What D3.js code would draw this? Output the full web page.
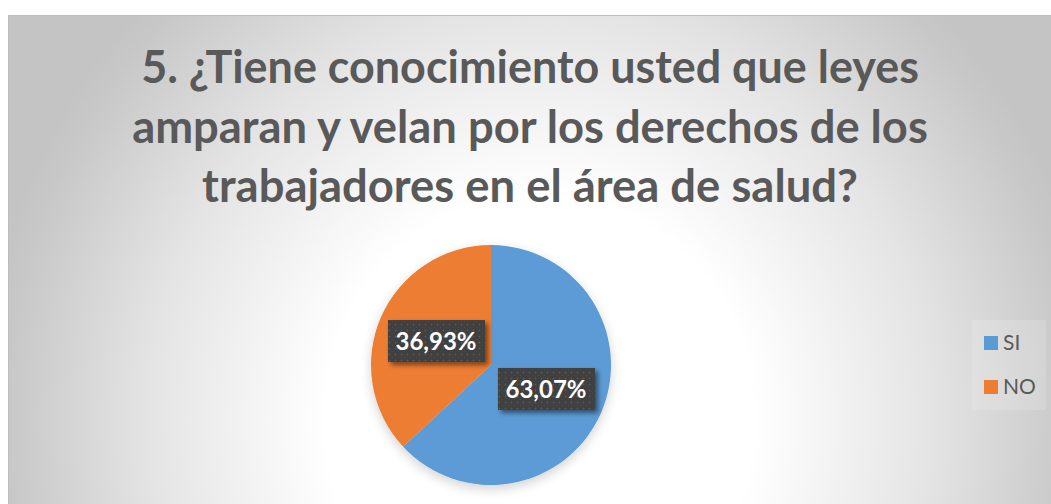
<!DOCTYPE html>
<html><head><meta charset="utf-8">
<script src="https://cdn.jsdelivr.net/npm/d3@7"></script>
<style>html,body{margin:0;padding:0;background:#fff;}svg{display:block;}</style>
</head><body>
<script>
const titleLines = ["5. ¿Tiene conocimiento usted que leyes",
  "amparan y velan por los derechos de los",
  "trabajadores en el área de salud?"];
const categories = ["SI", "NO"];
const values = [63.07, 36.93];
const labels = ["63,07%", "36,93%"];
const colors = ["#5B9BD5", "#ED7D31"];

const W = 1051, H = 504;
const svg = d3.select("body").append("svg").attr("width", W).attr("height", H);
const defs = svg.append("defs");

const grad = defs.append("radialGradient").attr("id", "bg")
  .attr("gradientUnits", "userSpaceOnUse")
  .attr("cx", 540).attr("cy", 420).attr("r", 560)
  .attr("gradientTransform", "translate(540,420) scale(1,1.05) translate(-540,-420)");
grad.append("stop").attr("offset", 0).attr("stop-color", "#ffffff");
grad.append("stop").attr("offset", 0.38).attr("stop-color", "#ffffff");
grad.append("stop").attr("offset", 0.7).attr("stop-color", "#e4e4e4");
grad.append("stop").attr("offset", 0.95).attr("stop-color", "#c8c8c8");
grad.append("stop").attr("offset", 1).attr("stop-color", "#c4c4c4");

const glow = defs.append("filter").attr("id", "glow").attr("x", "-30%").attr("y", "-30%").attr("width", "160%").attr("height", "160%");
glow.append("feGaussianBlur").attr("in", "SourceAlpha").attr("stdDeviation", 6).attr("result", "b");
glow.append("feOffset").attr("in", "b").attr("dx", 0).attr("dy", 4).attr("result", "o");
glow.append("feComponentTransfer").attr("in", "o").attr("result", "s")
  .append("feFuncA").attr("type", "linear").attr("slope", 0.18);
const gm = glow.append("feMerge");
gm.append("feMergeNode").attr("in", "s");
gm.append("feMergeNode").attr("in", "SourceGraphic");

const sh = defs.append("filter").attr("id", "lblsh").attr("x", "-20%").attr("y", "-20%").attr("width", "150%").attr("height", "160%");
sh.append("feGaussianBlur").attr("in", "SourceAlpha").attr("stdDeviation", 2.5).attr("result", "b");
sh.append("feOffset").attr("in", "b").attr("dx", 3).attr("dy", 3).attr("result", "o");
sh.append("feComponentTransfer").attr("in", "o").attr("result", "s")
  .append("feFuncA").attr("type", "linear").attr("slope", 0.5);
const sm = sh.append("feMerge");
sm.append("feMergeNode").attr("in", "s");
sm.append("feMergeNode").attr("in", "SourceGraphic");

const pat = defs.append("pattern").attr("id", "dots").attr("patternUnits", "userSpaceOnUse")
  .attr("width", 6).attr("height", 6);
pat.append("rect").attr("width", 6).attr("height", 6).attr("fill", "#3f3f3f");
pat.append("circle").attr("cx", 1.5).attr("cy", 1.5).attr("r", 0.9).attr("fill", "#5a5a5a");
pat.append("circle").attr("cx", 4.5).attr("cy", 4.5).attr("r", 0.6).attr("fill", "#4c4c4c");

// chart area
svg.append("rect").attr("x", 8.5).attr("y", 15.5).attr("width", W).attr("height", H)
  .attr("fill", "url(#bg)").attr("stroke", "#bdbdbd").attr("stroke-width", 1);

// title
const title = svg.append("g").attr("fill", "#595959")
  .attr("font-family", "Lato, 'Open Sans', sans-serif").attr("font-weight", 700);
const titleWidths = [778, 796, 656];
const titleY = [83, 143, 202];
titleLines.forEach((t, i) => {
  const el = title.append("text").attr("x", 530).attr("y", titleY[i])
    .attr("text-anchor", "middle").attr("font-size", 36).text(t);
  const len = el.node().getComputedTextLength();
  el.attr("font-size", 36 * titleWidths[i] / len);
});

// pie
const cx = 491, cy = 365, r = 120;
const pie = d3.pie().sort(null).value(d => d)(values);
const arc = d3.arc().innerRadius(0).outerRadius(r);
const g = svg.append("g").attr("transform", `translate(${cx},${cy})`);
g.append("g").attr("filter", "url(#glow)").selectAll("path").data(pie).join("path")
  .attr("d", arc).attr("fill", (d, i) => colors[i]);

const lbl = g.selectAll("g.lbl").data(pie).join("g").attr("class", "lbl")
  .attr("transform", d => `translate(${arc.centroid(d)})`);
lbl.append("rect").attr("x", -48).attr("y", -21).attr("width", 97).attr("height", 42)
  .attr("fill", "url(#dots)").attr("filter", "url(#lblsh)");
lbl.append("text").attr("text-anchor", "middle").attr("dy", "0.36em")
  .attr("fill", "#fff").attr("font-family", "Lato, 'Open Sans', sans-serif").attr("font-weight", 700)
  .attr("font-size", 24).text((d, i) => labels[i]);

// legend
const leg = svg.append("g");
leg.append("rect").attr("x", 972).attr("y", 320).attr("width", 74).attr("height", 90)
  .attr("fill", "#ffffff").attr("fill-opacity", 0.15);
const li = leg.selectAll("g.li").data(categories).join("g").attr("class", "li")
  .attr("transform", (d, i) => `translate(984,${336 + i * 44})`);
li.append("rect").attr("width", 14).attr("height", 14).attr("fill", (d, i) => colors[i]);
li.append("text").attr("x", 19).attr("y", 14).attr("fill", "#595959")
  .attr("font-family", "Lato, 'Open Sans', sans-serif").attr("font-size", 21).text(d => d);
</script>
</body></html>
